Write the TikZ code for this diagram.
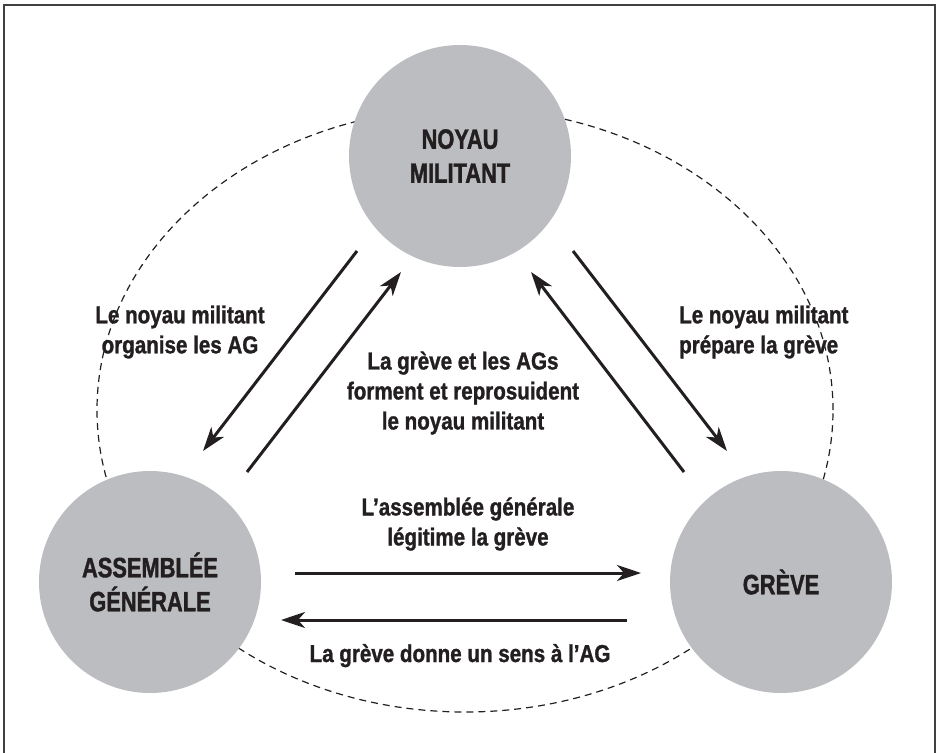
\documentclass[tikz,border=0pt]{standalone}
\usepackage{fontspec}
\setmainfont{Liberation Sans}[FakeStretch=0.84, FakeBold=1.2]
\newfontfamily\circfont{Liberation Sans}[FakeStretch=0.78, FakeBold=1.4]
\usetikzlibrary{arrows.meta}
\definecolor{ink}{HTML}{231F20}
\definecolor{disc}{HTML}{BCBDC0}
\definecolor{frame}{HTML}{404040}
\tikzset{
  bubble/.style={circle, fill=disc, draw=none, minimum size=222pt, inner sep=0pt,
    align=center, text=ink, font=\circfont\bfseries\fontsize{28}{34}\selectfont},
  lbl/.style={inner sep=0pt, text=ink, font=\bfseries\fontsize{24.5}{30}\selectfont},
  flow/.style={draw=ink, line width=3pt, -{Stealth[length=24pt,width=16pt,inset=7pt]}},
  orbit/.style={draw=ink, line width=1.2pt, dash pattern=on 7pt off 5pt},
}
\begin{document}
\begin{tikzpicture}[x=1pt,y=-1pt]
\useasboundingbox (0,0) rectangle (936,752);
% frame (bottom edge lies outside the picture)
\draw[frame, line width=1.5pt] (4,770) -- (4,5) -- (935,5) -- (935,770);
% dashed orbit
\draw[orbit] (465,410) ellipse [x radius=368pt, y radius=302pt];
% circles
\node[bubble] (nm) at (460,156) {NOYAU\\MILITANT};
\node[bubble] (ag) at (150,582) {ASSEMBLÉE\\GÉNÉRALE};
\node[bubble] (gr) at (781,582) {GRÈVE};
% arrow end points
\coordinate (a1s) at (357,251); \coordinate (a1e) at (203,451);
\coordinate (a2s) at (247,472); \coordinate (a2e) at (401,272);
\coordinate (a3s) at (684,472); \coordinate (a3e) at (531,272);
\coordinate (a4s) at (573,251); \coordinate (a4e) at (727,451);
\coordinate (a5s) at (295,573); \coordinate (a5e) at (641,573);
\coordinate (a6s) at (627,620); \coordinate (a6e) at (281,620);
\draw[flow] (a1s) -- (a1e);
\draw[flow] (a2s) -- (a2e);
\draw[flow] (a3s) -- (a3e);
\draw[flow] (a4s) -- (a4e);
\draw[flow] (a5s) -- (a5e);
\draw[flow] (a6s) -- (a6e);
% labels
\node[lbl, align=center] (l1) at (180,332) {Le noyau militant\\organise les AG};
\node[lbl, align=left, anchor=west] (l2) at (679,332) {Le noyau militant\\prépare la grève};
\node[lbl, align=center] (l3) at (463,393) {La grève et les AGs\\forment et reprosuident\\le noyau militant};
\node[lbl, align=center] (l4) at (468,524) {L’assemblée générale\\légitime la grève};
\node[lbl, anchor=base] (l5) at (460,662) {La grève donne un sens à l’AG};
\end{tikzpicture}
\end{document}
